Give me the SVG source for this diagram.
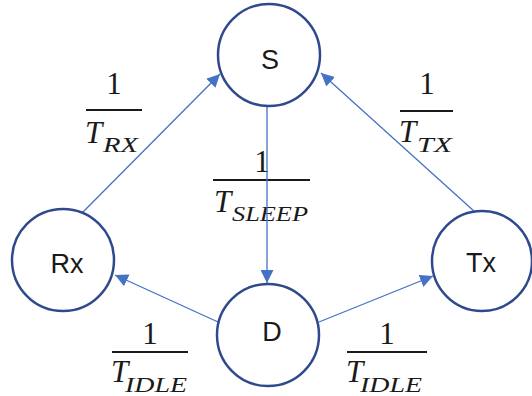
<svg xmlns="http://www.w3.org/2000/svg" width="532" height="396" viewBox="0 0 532 396">
<style>
.node circle{fill:#fff;stroke:#2F4A8C;stroke-width:2.5}
.node text{font-family:"Liberation Sans",Arial,sans-serif;font-size:27px;fill:#1a1a1a;text-anchor:middle}
.edge{stroke:#4472C4;stroke-width:1.3;fill:none;marker-end:url(#ah)}
.num{font-family:"Liberation Serif","DejaVu Serif",serif;font-size:31px;fill:#1a1a1a;text-anchor:middle}
.bar{stroke:#1a1a1a;stroke-width:2.2}
.den{font-family:"Liberation Serif","DejaVu Serif",serif;font-style:italic;font-size:31px;fill:#1a1a1a}
.sub{font-family:"Liberation Serif","DejaVu Serif",serif;font-style:italic;font-size:20px;fill:#1a1a1a}
</style>
<defs>
<marker id="ah" markerUnits="userSpaceOnUse" markerWidth="14" markerHeight="13" refX="13" refY="6.5" orient="auto">
<path d="M0,0 L13,6.5 L0,13 Z" fill="#4472C4"/>
</marker>
</defs>
<rect width="532" height="396" fill="#fff"/>
<g id="labels">
<g id="lbl-rx">
<text class="num" x="114" y="94">1</text>
<line class="bar" x1="86" y1="110" x2="142" y2="110"/>
<text class="den" x="85" y="143">T</text>
<text class="sub" x="103" y="152" textLength="35" lengthAdjust="spacingAndGlyphs">RX</text>
</g>
<g id="lbl-sleep">
<text class="num" x="262" y="172">1</text>
<line class="bar" x1="213" y1="180" x2="310" y2="180"/>
<text class="den" x="214" y="212">T</text>
<text class="sub" x="232" y="221" textLength="76" lengthAdjust="spacingAndGlyphs">SLEEP</text>
</g>
<g id="lbl-tx">
<text class="num" x="427" y="94">1</text>
<line class="bar" x1="400" y1="111" x2="453" y2="111"/>
<text class="den" x="399" y="142">T</text>
<text class="sub" x="417" y="152" textLength="35" lengthAdjust="spacingAndGlyphs">TX</text>
</g>
<g id="lbl-idle-l">
<text class="num" x="150" y="344">1</text>
<line class="bar" x1="112" y1="352" x2="188" y2="352"/>
<text class="den" x="111" y="382">T</text>
<text class="sub" x="125" y="392" textLength="62" lengthAdjust="spacingAndGlyphs">IDLE</text>
</g>
<g id="lbl-idle-r">
<text class="num" x="387" y="344">1</text>
<line class="bar" x1="347" y1="352" x2="427" y2="352"/>
<text class="den" x="346" y="382">T</text>
<text class="sub" x="360" y="392" textLength="62" lengthAdjust="spacingAndGlyphs">IDLE</text>
</g>
</g>
<g id="connectors">
<line class="edge" x1="83" y1="212" x2="220" y2="74"/>
<line class="edge" x1="475" y1="212" x2="321" y2="73"/>
<line class="edge" x1="267" y1="106" x2="267" y2="283"/>
<line class="edge" x1="218" y1="322" x2="115" y2="275"/>
<line class="edge" x1="319" y1="322" x2="433" y2="276"/>
</g>
<g id="S" class="node"><circle cx="269" cy="55" r="51"/><text x="270" y="69">S</text></g>
<g id="Rx" class="node"><circle cx="63" cy="260" r="51"/><text x="67" y="273">Rx</text></g>
<g id="Tx" class="node"><circle cx="482" cy="261" r="50"/><text x="481" y="272">Tx</text></g>
<g id="D" class="node"><circle cx="268" cy="335" r="51"/><text x="272" y="341">D</text></g>
</svg>
